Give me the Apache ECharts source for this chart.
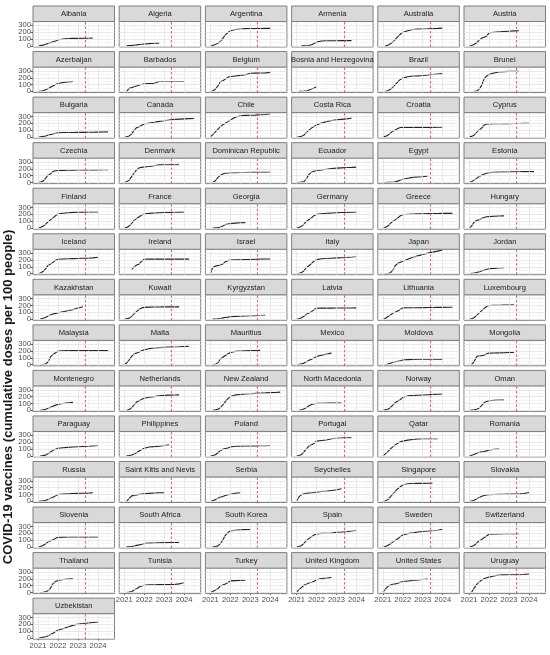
<!DOCTYPE html>
<html>
<head>
<meta charset="utf-8">
<script src="https://cdn.jsdelivr.net/npm/echarts@6/dist/echarts.min.js"></script>
<style>
  html, body { margin: 0; padding: 0; background: #fff; }
  #main { width: 550px; height: 655px; }
</style>
</head>
<body>
<div id="main"></div>
<script>
// sample dates (decimal years) shared by all countries
const dates = [2021.0, 2021.12, 2021.25, 2021.38, 2021.5, 2021.62, 2021.75, 2021.88, 2022.0,
  2022.25, 2022.5, 2022.75, 2023.0, 2023.25, 2023.5, 2023.75, 2024.0, 2024.25, 2024.5];

const countries = [
  "Albania", "Algeria", "Argentina", "Armenia", "Australia", "Austria",
  "Azerbaijan", "Barbados", "Belgium", "Bosnia and Herzegovina", "Brazil", "Brunei",
  "Bulgaria", "Canada", "Chile", "Costa Rica", "Croatia", "Cyprus",
  "Czechia", "Denmark", "Dominican Republic", "Ecuador", "Egypt", "Estonia",
  "Finland", "France", "Georgia", "Germany", "Greece", "Hungary",
  "Iceland", "Ireland", "Israel", "Italy", "Japan", "Jordan",
  "Kazakhstan", "Kuwait", "Kyrgyzstan", "Latvia", "Lithuania", "Luxembourg",
  "Malaysia", "Malta", "Mauritius", "Mexico", "Moldova", "Mongolia",
  "Montenegro", "Netherlands", "New Zealand", "North Macedonia", "Norway", "Oman",
  "Paraguay", "Philippines", "Poland", "Portugal", "Qatar", "Romania",
  "Russia", "Saint Kitts and Nevis", "Serbia", "Seychelles", "Singapore", "Slovakia",
  "Slovenia", "South Africa", "South Korea", "Spain", "Sweden", "Switzerland",
  "Thailand", "Tunisia", "Turkey", "United Kingdom", "United States", "Uruguay",
  "Uzbekistan"
];

// cumulative doses per 100 people, one row per country, aligned with dates (null = no data)
const doses = [
  [0, 3, 10, 22, 35, 48, 60, 72, 85, 100, 108, 110, 110, 111, 112, 115],
  [null, 0, 3, 6, 10, 14, 20, 24, 28, 33, 37, 40],
  [0, 5, 20, 40, 65, 110, 160, 195, 220, 240, 248, 252, 254, 255, 255, 256, 256],
  [null, null, 0, 2, 4, 8, 15, 35, 55, 72, 74, 75, 75, 76, 76, 77],
  [null, 0, 10, 30, 55, 95, 135, 170, 200, 220, 240, 245, 248, 250, 253, 256, 260],
  [0, 5, 20, 45, 80, 110, 125, 140, 190, 200, 205, 210, 215, 220, 222],

  [0, 3, 10, 25, 40, 60, 80, 100, 115, 130, 140, 145],
  [null, 0, 45, 55, 70, 80, 95, 102, 110, 115, 118, 145, 145, 146, 146, 146, 146],
  [0, 5, 35, 80, 140, 155, 180, 210, 215, 225, 235, 245, 265, 268, 270, 272, 278],
  [null, 0, 2, 5, 10, 20, 35, 50, 68],
  [null, 0, 10, 30, 60, 100, 140, 175, 195, 215, 225, 228, 232, 240, 248, 255, 260],
  [null, null, 0, 5, 30, 80, 180, 225, 250, 270, 285, 290, 293, 295, 295],

  [0, 3, 8, 15, 25, 35, 45, 55, 60, 65, 66, 66, 67, 67, 68, 68, 70, 72, 75],
  [0, 3, 15, 45, 100, 135, 150, 170, 190, 205, 215, 228, 238, 248, 258, 262, 265, 268, 270],
  [0, 35, 75, 115, 150, 180, 200, 225, 250, 290, 310, 316, 318, 320, 325, 330, 340],
  [0, 2, 10, 30, 70, 100, 130, 155, 175, 205, 225, 240, 250, 258, 265, 275],
  [0, 8, 25, 55, 85, 100, 125, 138, 140, 140, 140, 141, 141, 141, 141, 142, 142],
  [0, 8, 25, 65, 105, 125, 170, 190, 192, 193, 194, 195, 196, 197, 198, 199, 200],

  [0, 5, 20, 60, 110, 125, 160, 172, 175, 178, 180, 182, 184, 185, 185, 185, 185, 186, 186],
  [0, 10, 35, 90, 140, 185, 215, 222, 228, 235, 245, 258, 260, 260, 260, 261],
  [null, 0, 25, 75, 105, 125, 135, 140, 143, 145, 146, 147, 148, 148, 149, 149, 150],
  [0, 2, 5, 15, 60, 120, 150, 165, 175, 185, 195, 205, 210, 215, 220, 222, 225],
  [0, 0, 2, 4, 6, 10, 20, 35, 48, 62, 75, 80, 85, 97],
  [0, 10, 35, 60, 85, 105, 120, 135, 145, 150, 152, 154, 155, 157, 158, 159, 160, 160],

  [0, 8, 25, 55, 90, 120, 150, 180, 205, 218, 225, 230, 233, 234, 235, 235, 235],
  [0, 8, 30, 70, 115, 140, 165, 190, 205, 215, 220, 224, 227, 230, 232, 234, 235],
  [null, 0, 2, 5, 15, 30, 50, 60, 65, 72, 77, 80],
  [0, 8, 25, 60, 100, 125, 150, 185, 200, 210, 215, 220, 225, 228, 230, 232, 235],
  [0, 8, 30, 65, 100, 120, 150, 180, 195, 203, 206, 208, 210, 212, 213, 214, 215, 215, 215],
  [0, 25, 85, 110, 120, 140, 155, 165, 168, 172, 176, 178],

  [0, 10, 30, 70, 120, 140, 165, 195, 210, 215, 218, 220, 222, 224, 226, 230, 240],
  [null, null, null, 60, 100, 125, 140, 185, 210, 212, 212, 212, 212, 212, 212, 212, 212, 212],
  [5, 90, 110, 118, 125, 140, 175, 190, 200, 202, 203, 205, 207, 210, 212, 214, 215],
  [0, 5, 15, 45, 90, 115, 150, 185, 205, 218, 222, 226, 230, 233, 237, 243, 250],
  [null, 0, 2, 10, 50, 115, 150, 165, 180, 210, 240, 260, 280, 300, 315, 330, 345],
  [0, 3, 8, 15, 25, 38, 50, 60, 70, 77, 82, 85],

  [null, 0, 12, 25, 45, 60, 75, 85, 92, 108, 122, 140, 162, 183],
  [0, 5, 15, 40, 80, 110, 145, 165, 172, 176, 178, 179, 180, 180, 180, 180],
  [null, 0, 2, 5, 10, 18, 25, 30, 35, 40, 43, 46, 49, 52, 54, 55],
  [0, 5, 20, 45, 75, 90, 110, 140, 160, 162, 162, 162, 163, 163, 164, 164, 165],
  [0, 10, 35, 60, 85, 100, 120, 145, 165, 166, 167, 168, 169, 170, 171, 172, 173, 174, 175],
  [0, 5, 20, 55, 85, 120, 155, 185, 200, 202, 204, 206, 208, 210],

  [null, 0, 3, 10, 40, 110, 150, 175, 200, 205, 206, 206, 206, 206, 206, 206, 206, 206, 206],
  [0, 25, 70, 125, 160, 170, 185, 205, 220, 235, 245, 250, 254, 257, 260, 263, 267, 270],
  [null, 0, 5, 30, 80, 110, 135, 160, 180, 195, 200, 203, 206, 208, 210],
  [0, 5, 12, 25, 45, 65, 80, 100, 120, 140, 155, 170],
  [null, 0, 10, 22, 35, 42, 50, 58, 68, 75, 78, 79, 79, 80, 80, 80, 80],
  [null, 0, 40, 120, 130, 132, 140, 160, 170, 172, 174, 176, 178, 180],

  [null, 0, 5, 15, 30, 45, 60, 75, 85, 100, 110, 115],
  [null, 0, 10, 40, 80, 120, 140, 160, 175, 190, 200, 212, 218, 222, 224, 225],
  [null, 0, 5, 15, 40, 80, 125, 170, 200, 225, 232, 238, 242, 247, 251, 254, 258, 261, 265],
  [null, 0, 8, 22, 40, 65, 85, 95, 100, 103, 104, 105, 105, 105],
  [0, 5, 15, 40, 75, 110, 135, 155, 190, 210, 215, 220, 224, 228, 232, 236, 240],
  [0, 3, 8, 15, 30, 65, 110, 130, 140, 147, 150, 150],

  [null, 0, 3, 10, 30, 55, 80, 97, 110, 118, 124, 128, 132, 136, 140, 145, 150],
  [null, 0, 5, 12, 25, 45, 70, 92, 110, 128, 135, 142, 150, 160],
  [0, 5, 15, 45, 75, 95, 108, 115, 130, 140, 142, 144, 145, 146, 147, 148, 150],
  [0, 5, 20, 60, 105, 145, 160, 185, 215, 225, 232, 250, 258, 262, 264, 265],
  [0, 25, 60, 100, 130, 160, 185, 205, 215, 230, 240, 248, 250, 250, 250, 250],
  [0, 8, 20, 38, 50, 57, 62, 72, 82, 95, 100],

  [0, 3, 8, 15, 25, 45, 60, 80, 100, 106, 110, 114, 117, 119, 121, 125],
  [null, 0, 45, 80, 88, 95, 102, 106, 110, 117, 122, 125, 125],
  [0, 10, 25, 45, 62, 72, 85, 98, 105, 118, 125],
  [0, 65, 100, 112, 117, 122, 125, 130, 135, 145, 150, 160, 170, 185],
  [0, 5, 25, 65, 105, 145, 185, 215, 240, 258, 262, 263, 264, 265, 265],
  [0, 5, 15, 35, 55, 70, 85, 92, 96, 100, 102, 104, 106, 108, 110, 115, 130],

  [0, 5, 20, 45, 70, 90, 105, 125, 140, 143, 144, 145, 145, 145, 145, 145, 145],
  [null, 0, 2, 5, 12, 22, 30, 40, 50, 55, 58, 60, 62, 64, 65, 65],
  [null, 0, 5, 15, 50, 100, 170, 210, 235, 245, 250, 253, 256],
  [0, 5, 20, 55, 95, 125, 150, 175, 190, 198, 200, 202, 215, 218, 222, 232, 245],
  [0, 5, 20, 45, 70, 95, 120, 150, 175, 195, 205, 218, 225, 232, 238, 243, 260],
  [0, 5, 20, 55, 90, 105, 135, 160, 185, 188, 190, 192, 194, 195, 195],

  [null, 0, 3, 10, 25, 60, 130, 160, 175, 190, 196, 200],
  [null, 0, 5, 15, 35, 55, 80, 95, 105, 112, 113, 114, 115, 115, 116, 125, 145],
  [0, 15, 35, 55, 95, 110, 125, 145, 170, 173, 176, 178],
  [5, 40, 75, 105, 125, 140, 150, 165, 185, 205, 212, 220],
  [5, 45, 85, 110, 120, 125, 135, 150, 160, 168, 175, 182, 190, 198],
  [null, 0, 60, 115, 150, 180, 200, 215, 225, 240, 255, 258, 260, 260, 260, 263, 270],

  [0, 2, 10, 18, 30, 50, 70, 95, 115, 135, 160, 185, 205, 212, 220, 228, 235]
];

const xTicks = [2021, 2022, 2023, 2024];
const yTicks = [0, 100, 200, 300];
const xMinor = [2021.5, 2022.5, 2023.5, 2024.5];
const yMinor = [50, 150, 250, 350];
const emergencyEnd = 2023.37; // red dashed line

const font = "'Liberation Sans', Arial, sans-serif";
const chart = echarts.init(document.getElementById("main"));

// facet layout
const nCol = 6;
const colLeft = 33, colStep = 86.2, panelW = 81.5;
const rowTop = 6, rowStep = 45.55, stripH = 15.5, panelH = 25.5;

const grid = [], xAxis = [], yAxis = [], series = [], graphic = [];

function makeY(gi, show, ticks) {
  return {
    type: "value", gridIndex: gi, position: "left", offset: 0, min: -17, max: 357,
    axisLine: { show: false }, splitLine: { show: false },
    axisTick: { show: show, customValues: ticks, length: 2.5, lineStyle: { color: "#333", width: 0.8 } },
    axisLabel: {
      show: show, customValues: ticks, hideOverlap: false, showMinLabel: true, showMaxLabel: true,
      formatter: v => String(v), fontSize: 7.6, color: "#4d4d4d", margin: 2, fontFamily: font
    }
  };
}

countries.forEach((name, i) => {
  const col = i % nCol, row = Math.floor(i / nCol);
  const left = colLeft + col * colStep;
  const top = rowTop + row * rowStep;
  const showX = i + nCol >= countries.length; // bottom panel of its column
  const showY = col === 0;

  grid.push({
    left: left, top: top + stripH, width: panelW, height: panelH,
    show: true, borderColor: "#7f7f7f", borderWidth: 1, backgroundColor: "#fff",
    containLabel: false, outerBoundsMode: "none"
  });
  xAxis.push({
    type: "value", gridIndex: i, min: 2020.75, max: 2024.83,
    axisLine: { show: false }, splitLine: { show: false },
    axisTick: { show: showX, customValues: xTicks, length: 2.5, lineStyle: { color: "#333", width: 0.8 } },
    axisLabel: {
      show: showX, customValues: xTicks, hideOverlap: false, showMinLabel: true, showMaxLabel: true,
      formatter: v => String(v), fontSize: 7.6, color: "#4d4d4d", margin: 2.5, fontFamily: font
    }
  });

  // labels are tightly packed, so split them over two left axes to avoid overlap hiding
  const yi = yAxis.length;
  yAxis.push(makeY(i, showY, yTicks.filter((v, k) => k % 2 === 0)));
  if (showY) yAxis.push(makeY(i, true, yTicks.filter((v, k) => k % 2 === 1)));

  // background grid lines
  const minorStyle = { color: "#ececec", width: 0.5, type: "solid" };
  const majorStyle = { color: "#e3e3e3", width: 0.8, type: "solid" };
  series.push({
    type: "line", xAxisIndex: i, yAxisIndex: yi, data: [], z: 1, silent: true,
    markLine: {
      silent: true, symbol: "none", label: { show: false }, animation: false,
      data: [].concat(
        xMinor.map(v => ({ xAxis: v, lineStyle: minorStyle })),
        yMinor.map(v => ({ yAxis: v, lineStyle: minorStyle })),
        xTicks.map(v => ({ xAxis: v, lineStyle: majorStyle })),
        yTicks.map(v => ({ yAxis: v, lineStyle: majorStyle }))
      )
    }
  });

  const pts = [];
  doses[i].forEach((v, k) => { if (v !== null && v !== undefined) pts.push([dates[k], v]); });
  series.push({
    type: "line", xAxisIndex: i, yAxisIndex: yi, data: pts, z: 3,
    showSymbol: false, symbol: "none", smooth: false,
    lineStyle: { color: "#222", width: 1.1 }
  });

  series.push({
    type: "line", xAxisIndex: i, yAxisIndex: yi, data: [], z: 4, silent: true,
    markLine: {
      silent: true, symbol: "none", label: { show: false }, animation: false,
      data: [{ xAxis: emergencyEnd }],
      lineStyle: { color: "#ff3030", width: 0.8, type: [2.5, 2] }
    }
  });

  // strip
  graphic.push({
    type: "rect", z: 10,
    shape: { x: left, y: top, width: panelW, height: stripH },
    style: { fill: "#d9d9d9", stroke: "#7f7f7f", lineWidth: 1 }
  });
  graphic.push({
    type: "text", z: 11, x: left + panelW / 2, y: top + stripH / 2 + 0.5,
    style: { text: name, fontSize: 7.6, fill: "#1a1a1a", align: "center", verticalAlign: "middle", fontFamily: font }
  });
});

graphic.push({
  type: "text", z: 11, x: 8, y: 397, rotation: Math.PI / 2,
  style: {
    text: "COVID-19 vaccines (cumulative doses per 100 people)",
    fontSize: 13, fontWeight: "bold", fill: "#1a1a1a",
    align: "center", verticalAlign: "middle", fontFamily: font
  }
});

chart.setOption({
  animation: false,
  backgroundColor: "#fff",
  grid: grid,
  xAxis: xAxis,
  yAxis: yAxis,
  series: series,
  graphic: graphic
});
</script>
</body>
</html>
